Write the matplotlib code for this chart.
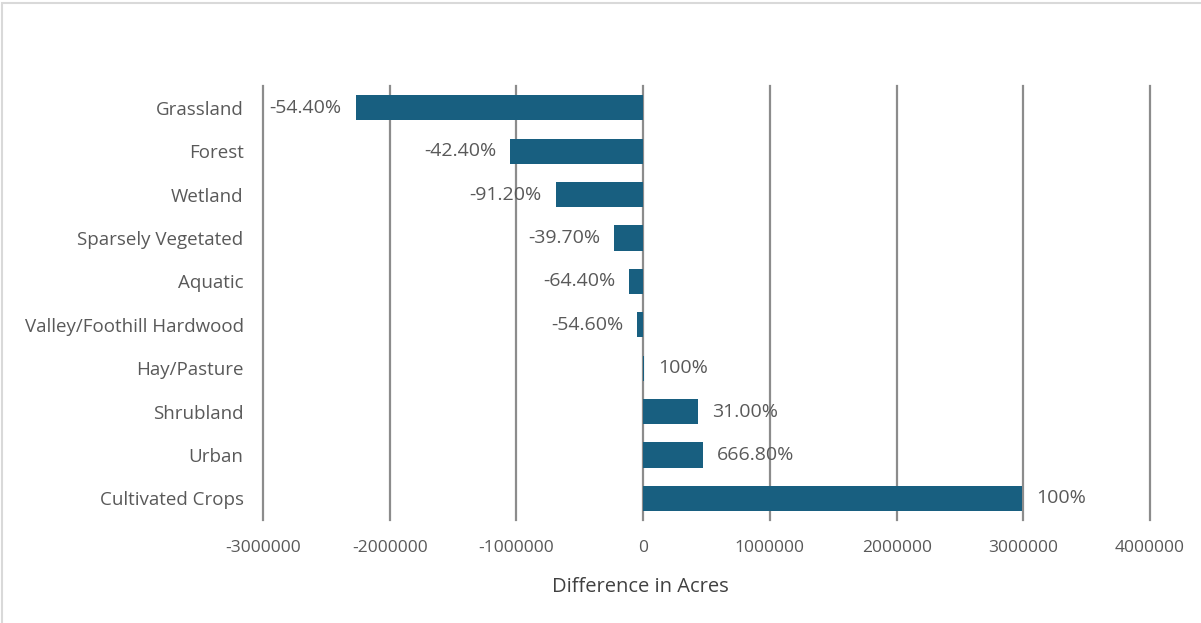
import matplotlib.pyplot as plt
from matplotlib.patches import Rectangle

# land cover change
categories = ['Grassland', 'Forest', 'Wetland', 'Sparsely Vegetated', 'Aquatic',
              'Valley/Foothill Hardwood', 'Hay/Pasture', 'Shrubland', 'Urban',
              'Cultivated Crops']
diff_acres = [-2270000, -1050000, -690000, -230000, -110000,
              -47000, 6000, 430000, 475000, 2990000]
pct_labels = ['-54.40%', '-42.40%', '-91.20%', '-39.70%', '-64.40%',
              '-54.60%', '100%', '31.00%', '666.80%', '100%']
x_ticks = [-3000000, -2000000, -1000000, 0, 1000000, 2000000, 3000000, 4000000]

bar_color = '#185f80'
text_color = '#595959'
grid_color = '#8c8c8c'

plt.rcParams['font.family'] = ['Open Sans', 'DejaVu Sans']

fig = plt.figure(figsize=(12.01, 6.23), dpi=100)
ax = fig.add_axes([0.219, 0.165, 0.7386, 0.697])

y = list(range(len(categories)))
ax.barh(y, diff_acres, height=0.58, color=bar_color, zorder=3)

for yi, val, lab in zip(y, diff_acres, pct_labels):
    if val < 0:
        ax.annotate(lab, (val, yi), xytext=(-10, 0), textcoords='offset points',
                    ha='right', va='center', fontsize=14, color=text_color,
                    zorder=4, annotation_clip=False)
    else:
        ax.annotate(lab, (val, yi), xytext=(10, 0), textcoords='offset points',
                    ha='left', va='center', fontsize=14, color=text_color,
                    zorder=4, annotation_clip=False)

ax.set_xlim(-3000000, 4000000)
ax.set_ylim(len(categories) - 0.5, -0.5)
ax.set_xticks(x_ticks)
ax.set_xticklabels([str(t) for t in x_ticks])
ax.set_yticks(y)
ax.set_yticklabels(categories)
ax.tick_params(axis='both', length=0, labelcolor=text_color)
ax.tick_params(axis='x', pad=14, labelsize=12.5)
ax.tick_params(axis='y', pad=14, labelsize=13.5)

# vertical gridlines, drawn unclipped so the edge ones keep full width
for t in x_ticks:
    ax.axvline(t, color=grid_color, linewidth=1.6, zorder=1, clip_on=False)
for s in ax.spines.values():
    s.set_visible(False)

fig.text(640 / 1201, 1 - 587 / 623, 'Difference in Acres', fontsize=14.5,
         color='#404040', ha='center', va='center')

# light frame around the whole chart
fig.patches.append(Rectangle((0.002, -0.01), 1.2, 1.005, transform=fig.transFigure,
                             fill=False, edgecolor='#d9d9d9', linewidth=1.5))

fig.savefig('out.png', dpi=100)
